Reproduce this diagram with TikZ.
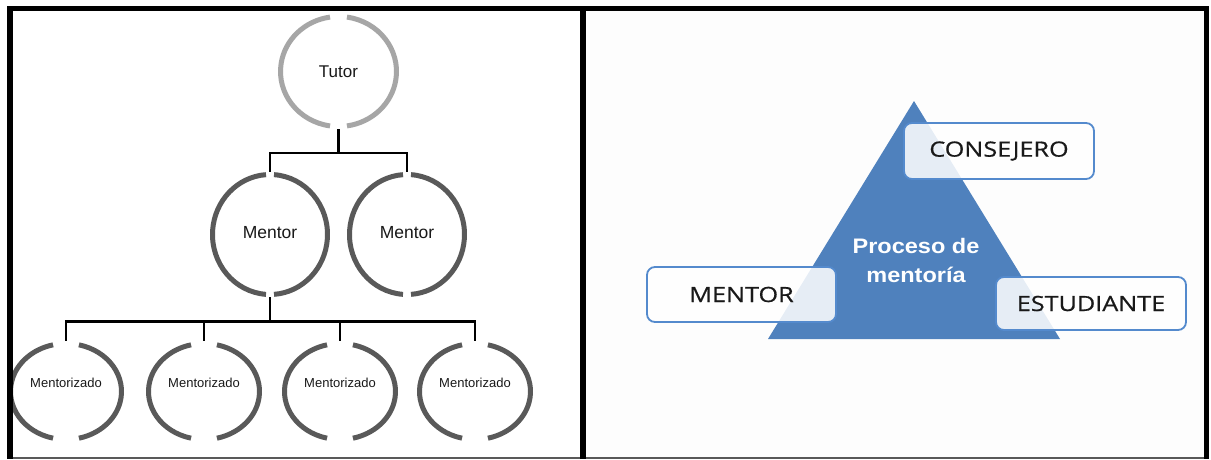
\documentclass[tikz,border=0pt]{standalone}
\usepackage{fontspec}
\setmainfont{Liberation Sans}
\newfontfamily\boxfont[FakeStretch=1.2,FakeBold=0.6]{Open Sans}
\newfontfamily\procfont[FakeStretch=1.12]{Liberation Sans}
\usetikzlibrary{shapes.geometric,calc}
\definecolor{ringdark}{RGB}{89,89,89}
\definecolor{ringlight}{RGB}{166,166,166}
\definecolor{triblue}{RGB}{79,129,189}
\definecolor{boxblue}{RGB}{84,138,205}
\definecolor{txt}{RGB}{25,25,25}
\definecolor{panelbg}{RGB}{253,253,253}
\newcommand\ringarcs[5]{%
  \draw[ring,#5] ([shift={(-#4:#2 and #3)}]#1.center) arc[start angle=-#4, end angle=#4, x radius=#2, y radius=#3];
  \draw[ring,#5] ([shift={(180-#4:#2 and #3)}]#1.center) arc[start angle=180-#4, end angle=180+#4, x radius=#2, y radius=#3];}
\begin{document}
\begin{tikzpicture}[x=1pt,y=-1pt,
  ringnode/.style={ellipse,inner sep=0pt,text=txt},
  ring/.style={line width=5pt,line cap=butt},
  link/.style={line width=2.2pt,black},
  framebar/.style={line width=6pt,black},
  rolebox/.style={draw=boxblue,line width=1.8pt,rounded corners=8pt,fill=white,fill opacity=0.86,text opacity=1,text=txt,font=\boxfont\fontsize{21}{25}\selectfont,inner sep=0pt},
  tutorsty/.style={ringnode,minimum width=121pt,minimum height=115pt,font=\fontsize{17}{20}\selectfont},
  mentorsty/.style={ringnode,minimum width=120pt,minimum height=125pt,font=\fontsize{17.5}{20}\selectfont,text depth=5pt},
  menteesty/.style={ringnode,minimum width=116pt,minimum height=101pt,font=\fontsize{13}{15}\selectfont,text depth=17pt}]
\useasboundingbox (0,0) rectangle (1211,459);
\fill[white] (0,0) rectangle (1211,459);
\fill[panelbg] (586,11) rectangle (1204,457);

% left panel: hierarchy
\node[tutorsty] (tutor) at (338.5,71.5) {Tutor};
\node[mentorsty] (mentorA) at (270,234.5) {Mentor};
\node[mentorsty] (mentorB) at (407,234.5) {Mentor};
\node[menteesty] (mz1) at (66,391.5) {Mentorizado};
\node[menteesty] (mz2) at (204,391.5) {Mentorizado};
\node[menteesty] (mz3) at (340,391.5) {Mentorizado};
\node[menteesty] (mz4) at (475,391.5) {Mentorizado};

\ringarcs{tutor}{58}{55}{81.6}{ringlight}
\ringarcs{mentorA}{57.5}{60}{86}{ringdark}
\ringarcs{mentorB}{57.5}{60}{86}{ringdark}
\ringarcs{mz1}{55.5}{48}{76.5}{ringdark}
\ringarcs{mz2}{55.5}{48}{76.5}{ringdark}
\ringarcs{mz3}{55.5}{48}{76.5}{ringdark}
\ringarcs{mz4}{55.5}{48}{76.5}{ringdark}

\coordinate (bus1) at (338.5,153);
\coordinate (bus2) at (270,321.5);
\draw[link] (tutor.south) -- (bus1);
\draw[link] (mentorA.north) |- (bus1) -| (mentorB.north);
\draw[link] (mentorA.south) -- (bus2);
\draw[link] (mz1.north) |- (bus2) -| (mz4.north);
\draw[link] (mz2.north) -- (mz2.north |- bus2);
\draw[link] (mz3.north) -- (mz3.north |- bus2);

% right panel: triangle
\coordinate (apex) at (914,101);
\coordinate (bl) at (768,339);
\coordinate (br) at (1060,339);
\fill[triblue] (apex) -- (br) -- (bl) -- cycle;
\node[rolebox,minimum width=190pt,minimum height=56pt] (consejero) at (999,151) {CONSEJERO};
\node[rolebox,minimum width=189pt,minimum height=55pt] (mentorbox) at (741.5,294.5) {MENTOR};
\node[rolebox,minimum width=190pt,minimum height=53pt] (estudiante) at (1091,303.5) {ESTUDIANTE};
\node[text=white,font=\procfont\bfseries\fontsize{21}{29}\selectfont,align=center,inner sep=0pt] (proceso) at (916,260) {Proceso de\\mentoría};

% frame
\draw[gray!70!black,line width=1.5pt] (7,458) -- (1209,458);
\draw[line width=5pt] (7,8.5) -- (1209,8.5);
\draw[framebar] (10,6) -- (10,459);
\draw[framebar] (583,6) -- (583,459);
\draw[line width=5pt] (1206.5,6) -- (1206.5,459);
\end{tikzpicture}
\end{document}
